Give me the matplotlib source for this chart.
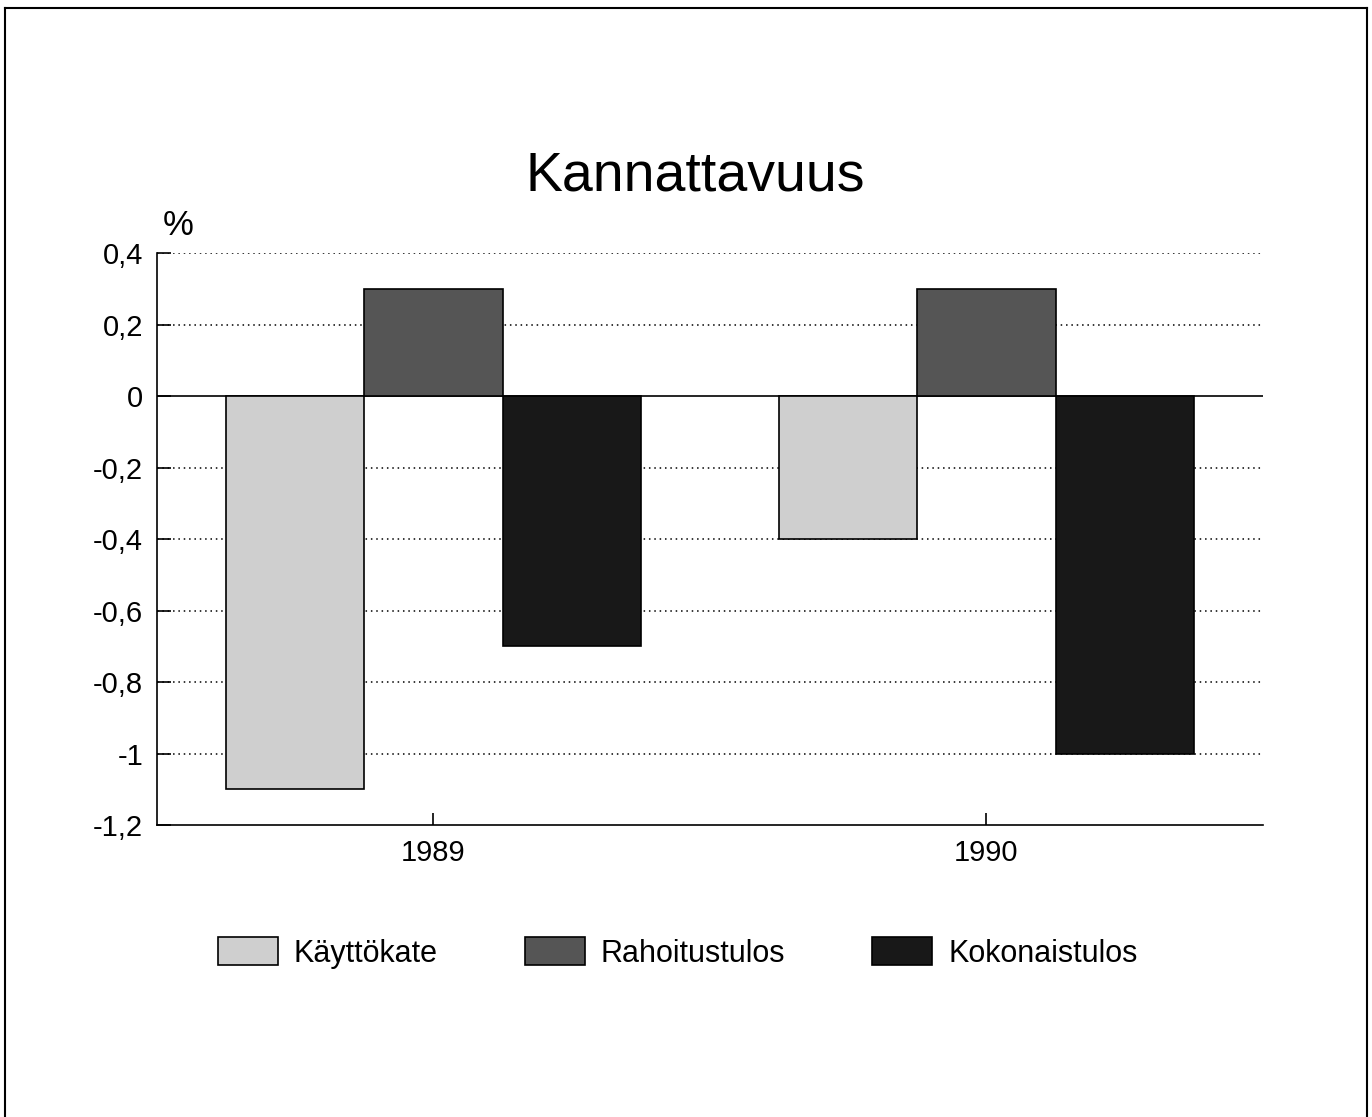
import numpy as np
import matplotlib.pyplot as plt
from matplotlib.lines import Line2D

plt.rcParams['font.family'] = ['Liberation Sans', 'DejaVu Sans']

years = ["1989", "1990"]
series = ["Käyttökate", "Rahoitustulos", "Kokonaistulos"]
kayttokate = [-1.1, -0.4]
rahoitustulos = [0.3, 0.3]
kokonaistulos = [-0.7, -1.0]
colors = ["#cfcfcf", "#555555", "#181818"]
yticks = [0.4, 0.2, 0, -0.2, -0.4, -0.6, -0.8, -1, -1.2]
ytick_labels = ["0,4", "0,2", "0", "-0,2", "-0,4", "-0,6", "-0,8", "-1", "-1,2"]

fig = plt.figure(figsize=(13.72, 11.17), dpi=100)
ax = fig.add_axes([0.1144, 0.2614, 0.8061, 0.5121])

x = np.arange(len(years))
w = 0.25
for i, (vals, name) in enumerate(zip([kayttokate, rahoitustulos, kokonaistulos], series)):
    ax.bar(x + (i - 1) * w, vals, w, color=colors[i], edgecolor="black",
           linewidth=1.2, label=name, zorder=3)

ax.set_xlim(-0.5, 1.5)
ax.set_ylim(-1.2, 0.4)
ax.set_yticks(yticks)
ax.set_yticklabels(ytick_labels)
ax.set_xticks(x)
ax.set_xticklabels(years)
ax.tick_params(axis="y", direction="in", length=10, width=1.2, pad=10, labelsize=21)
ax.tick_params(axis="x", direction="in", length=9, width=1.2, pad=10, labelsize=21)

for s in ["top", "right"]:
    ax.spines[s].set_visible(False)
ax.spines["left"].set_linewidth(1.2)
ax.spines["bottom"].set_linewidth(1.2)

# dotted grid, solid zero line
for t in yticks:
    if t in (0, -1.2):
        continue
    ax.axhline(t, color="black", linestyle=(0, (1, 2.5)), linewidth=1.1, zorder=1)
ax.axhline(0, color="black", linewidth=1.2, zorder=2)

fig.text(0.507, 0.842, "Kannattavuus", ha="center", va="center", fontsize=40)
fig.text(0.130, 0.798, "%", ha="center", va="center", fontsize=25)

fig.legend(loc="center", bbox_to_anchor=(0.494, 0.147), ncol=3, frameon=False,
           fontsize=22, handlelength=1.96, handleheight=1.05, handletextpad=0.52,
           columnspacing=2.85)

# page frame
for xs, ys in [([0.0036, 0.0036], [0.0, 0.9928]),
               ([0.0036, 0.9964], [0.9928, 0.9928]),
               ([0.9964, 0.9964], [0.9928, 0.0])]:
    fig.add_artist(Line2D(xs, ys, color="black", linewidth=1.5))

fig.savefig("out.png", dpi=100)
